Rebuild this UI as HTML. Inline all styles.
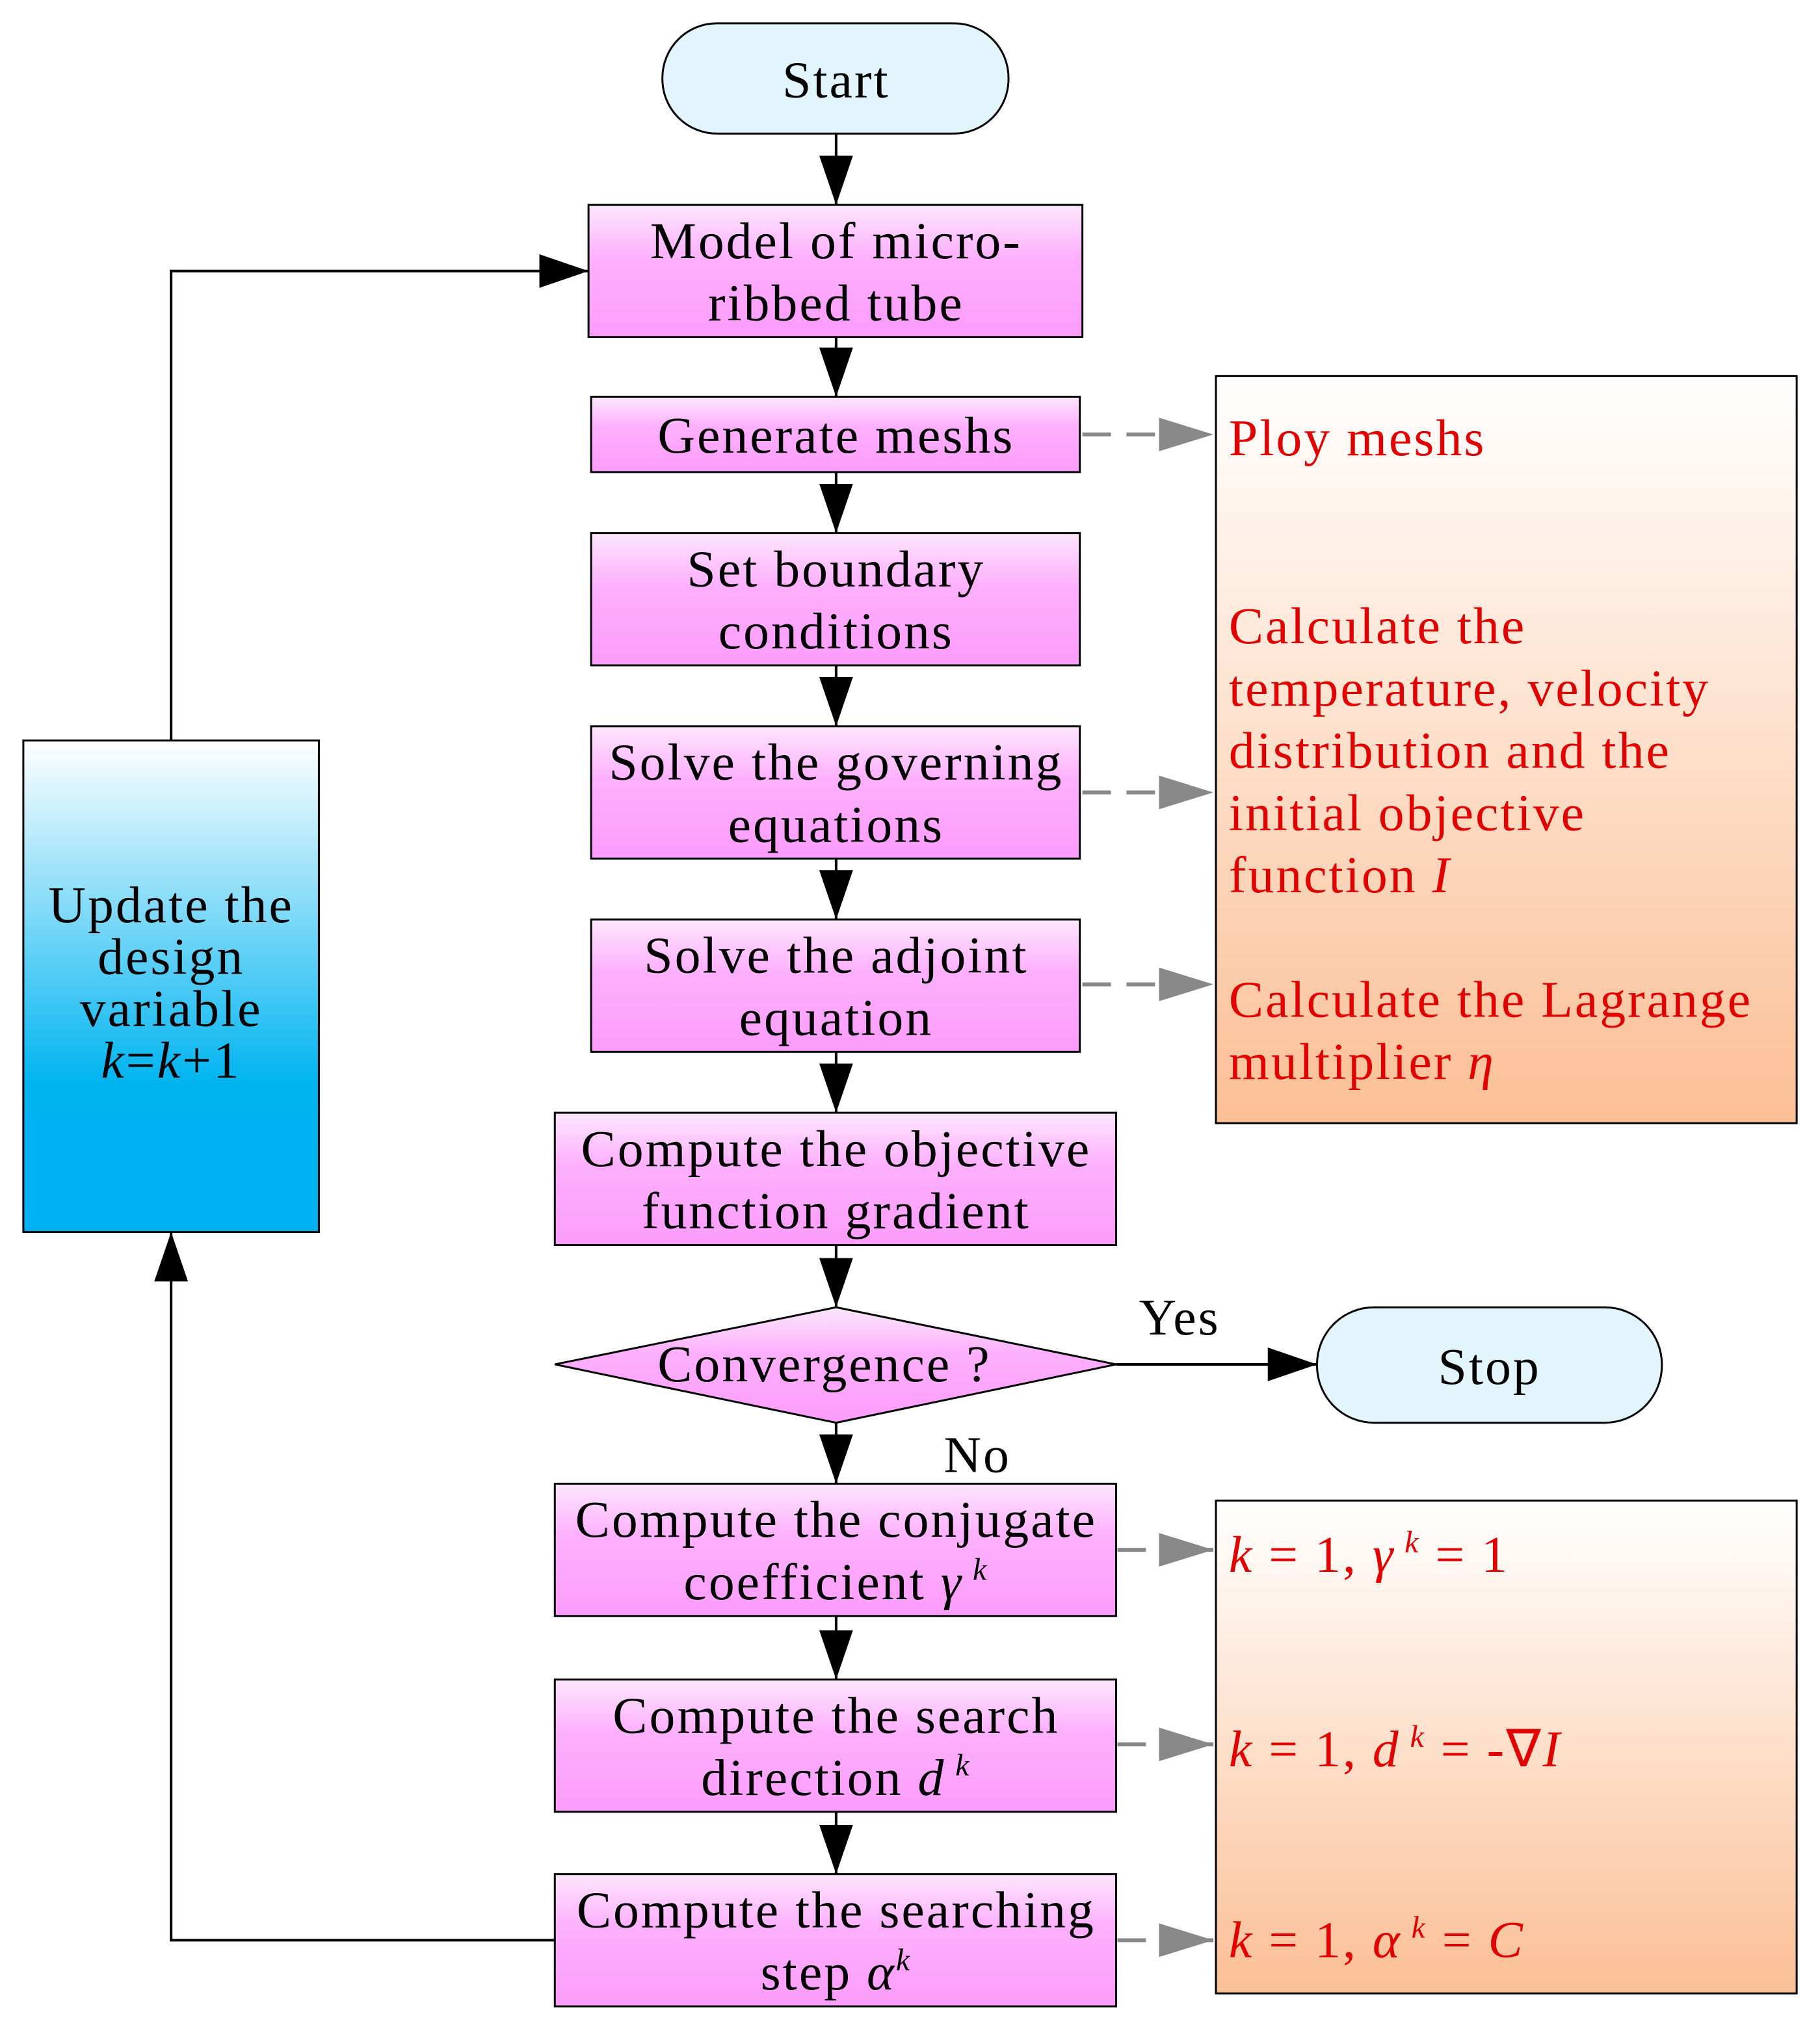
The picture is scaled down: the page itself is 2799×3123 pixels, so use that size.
<!DOCTYPE html>
<html><head><meta charset="utf-8"><style>
html,body{margin:0;padding:0;background:#fff}
svg{display:block}
text{font-family:"Liberation Serif",serif;font-size:40px;letter-spacing:1.5px}
.b{fill:#000;text-anchor:middle}
.r{fill:#e00000}
</style></head><body>
<svg width="2799" height="3123" viewBox="0 0 1404 1566" preserveAspectRatio="none" xmlns="http://www.w3.org/2000/svg">
<defs>
<linearGradient id="pk" x1="0" y1="0" x2="0" y2="1"><stop offset="0" stop-color="#fde6fd"/><stop offset="0.4" stop-color="#fdb0fd"/><stop offset="1" stop-color="#fc9cfc"/></linearGradient>
<linearGradient id="bl" x1="0" y1="0" x2="0" y2="1"><stop offset="0" stop-color="#ffffff"/><stop offset="0.7" stop-color="#00b4f0"/><stop offset="1" stop-color="#00b0f0"/></linearGradient>
<linearGradient id="or" x1="0" y1="0" x2="0" y2="1"><stop offset="0" stop-color="#ffffff"/><stop offset="1" stop-color="#fbbf95"/></linearGradient>
<marker id="a" markerWidth="38" markerHeight="26" refX="38" refY="13" orient="auto" markerUnits="userSpaceOnUse" viewBox="0 0 38 26"><path d="M0,0 L38,13 L0,26z" fill="#000"/></marker>
<marker id="g" markerWidth="42" markerHeight="26" refX="42" refY="13" orient="auto" markerUnits="userSpaceOnUse" viewBox="0 0 42 26"><path d="M0,0 L42,13 L0,26z" fill="#888"/></marker>
</defs>
<g stroke="#000" stroke-width="2" fill="none">
<path d="M645 103V158" marker-end="url(#a)"/>
<path d="M645 260V306" marker-end="url(#a)"/>
<path d="M645 364V411" marker-end="url(#a)"/>
<path d="M645 513V560" marker-end="url(#a)"/>
<path d="M645 662V709" marker-end="url(#a)"/>
<path d="M645 811V858" marker-end="url(#a)"/>
<path d="M645 960V1008" marker-end="url(#a)"/>
<path d="M645 1097V1144" marker-end="url(#a)"/>
<path d="M645 1246V1295" marker-end="url(#a)"/>
<path d="M645 1397V1445" marker-end="url(#a)"/>
<path d="M861 1052H1016" marker-end="url(#a)"/>
<path d="M428 1496H132V950" marker-end="url(#a)"/>
<path d="M132 571V209H454" marker-end="url(#a)"/>
</g>
<g stroke="#888" stroke-width="3" stroke-dasharray="22,12" fill="none">
<path d="M835 335H936" marker-end="url(#g)"/>
<path d="M835 611H936" marker-end="url(#g)"/>
<path d="M835 759H936" marker-end="url(#g)"/>
<path d="M862 1195H936" marker-end="url(#g)"/>
<path d="M862 1345H936" marker-end="url(#g)"/>
<path d="M862 1496H936" marker-end="url(#g)"/>
</g>
<g stroke="#000" stroke-width="1.5">
<rect x="511" y="18" width="267" height="85" rx="42" fill="#e3f5fc"/>
<rect x="1016" y="1008" width="266" height="89" rx="44" fill="#e3f5fc"/>
<rect x="454" y="158" width="381" height="102" fill="url(#pk)"/>
<rect x="456" y="306" width="377" height="58" fill="url(#pk)"/>
<rect x="456" y="411" width="377" height="102" fill="url(#pk)"/>
<rect x="456" y="560" width="377" height="102" fill="url(#pk)"/>
<rect x="456" y="709" width="377" height="102" fill="url(#pk)"/>
<rect x="428" y="858" width="433" height="102" fill="url(#pk)"/>
<path d="M428 1052L645 1008L861 1052L645 1097Z" fill="url(#pk)"/>
<rect x="428" y="1144" width="433" height="102" fill="url(#pk)"/>
<rect x="428" y="1295" width="433" height="102" fill="url(#pk)"/>
<rect x="428" y="1445" width="433" height="102" fill="url(#pk)"/>
<rect x="18" y="571" width="228" height="379" fill="url(#bl)"/>
<rect x="938" y="290" width="448" height="576" fill="url(#or)"/>
<rect x="938" y="1157" width="448" height="380" fill="url(#or)"/>
</g>
<g class="b">
<text x="645" y="75">Start</text>
<text x="1149" y="1067">Stop</text>
<text x="645" y="199">Model of micro-</text>
<text x="645" y="247">ribbed tube</text>
<text x="645" y="349">Generate meshs</text>
<text x="645" y="452">Set boundary</text>
<text x="645" y="500">conditions</text>
<text x="645" y="601">Solve the governing</text>
<text x="645" y="649">equations</text>
<text x="645" y="750">Solve the adjoint</text>
<text x="645" y="798">equation</text>
<text x="645" y="899">Compute the objective</text>
<text x="645" y="947">function gradient</text>
<text x="636" y="1065">Convergence ?</text>
<text x="645" y="1185">Compute the conjugate</text>
<text x="645" y="1233">coefficient <tspan font-style="italic">γ</tspan><tspan font-style="italic" font-size="24" dy="-15"> k</tspan></text>
<text x="645" y="1336">Compute the search</text>
<text x="645" y="1384">direction <tspan font-style="italic">d</tspan><tspan font-style="italic" font-size="24" dy="-15"> k</tspan></text>
<text x="645" y="1486">Compute the searching</text>
<text x="645" y="1534">step <tspan font-style="italic">α</tspan><tspan font-style="italic" font-size="24" dy="-15">k</tspan></text>
<text x="910" y="1029">Yes</text>
<text x="754" y="1135">No</text>
<text x="132" y="711">Update the</text>
<text x="132" y="751">design</text>
<text x="132" y="791">variable</text>
<text x="132" y="831"><tspan font-style="italic">k</tspan>=<tspan font-style="italic">k</tspan>+1</text>
</g>
<g class="r">
<text x="948" y="351">Ploy meshs</text>
<text x="948" y="496">Calculate the</text>
<text x="948" y="544">temperature, velocity</text>
<text x="948" y="592">distribution and the</text>
<text x="948" y="640">initial objective</text>
<text x="948" y="688">function <tspan font-style="italic">I</tspan></text>
<text x="948" y="784">Calculate the Lagrange</text>
<text x="948" y="832">multiplier <tspan font-style="italic">η</tspan></text>
<text x="948" y="1212"><tspan font-style="italic">k</tspan> = 1, <tspan font-style="italic">γ</tspan><tspan font-style="italic" font-size="24" dy="-15"> k</tspan><tspan dy="15"> = 1</tspan></text>
<text x="948" y="1362"><tspan font-style="italic">k</tspan> = 1, <tspan font-style="italic">d</tspan><tspan font-style="italic" font-size="24" dy="-15"> k</tspan><tspan dy="15"> = -∇<tspan font-style="italic">I</tspan></tspan></text>
<text x="948" y="1509"><tspan font-style="italic">k</tspan> = 1, <tspan font-style="italic">α</tspan><tspan font-style="italic" font-size="24" dy="-15"> k</tspan><tspan dy="15"> = <tspan font-style="italic">C</tspan></tspan></text>
</g>
</svg>
</body></html>
